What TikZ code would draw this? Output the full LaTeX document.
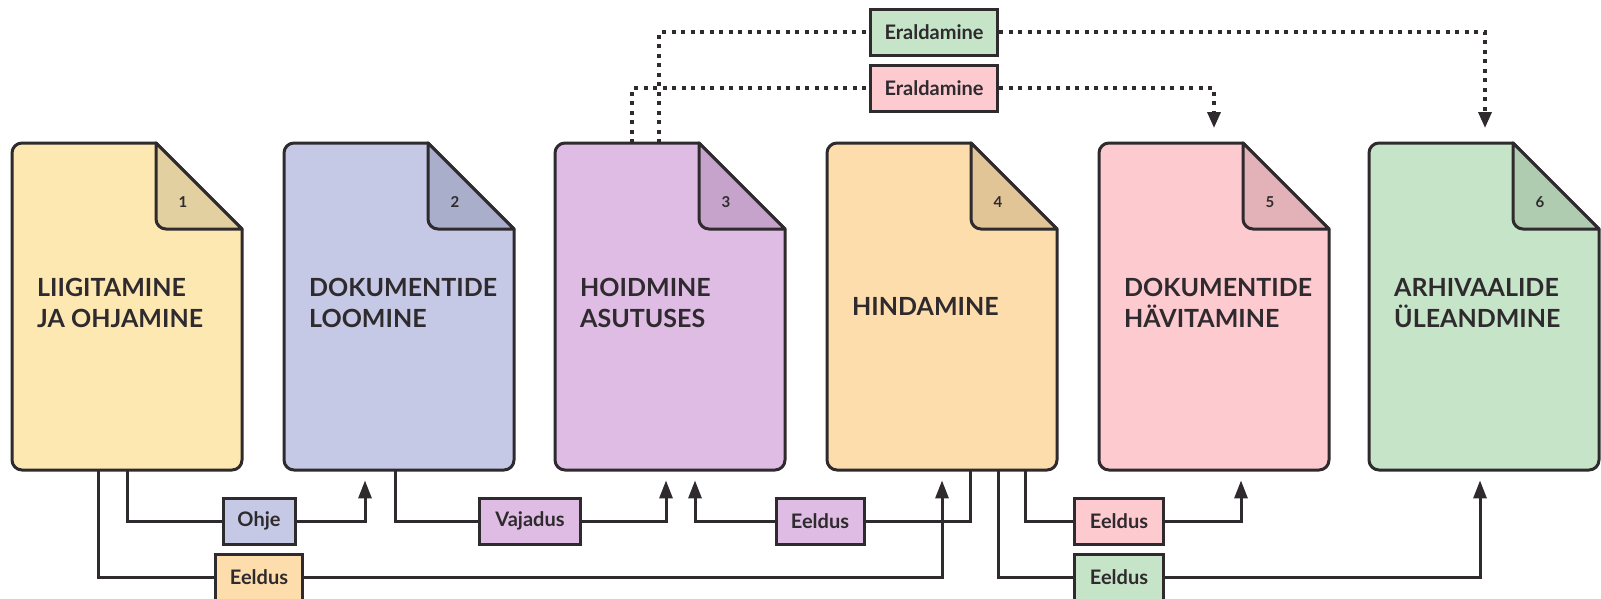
\documentclass[tikz,border=0pt]{standalone}
\usepackage{fontspec}
\setmainfont{Lato}
\usetikzlibrary{arrows.meta,calc}
\definecolor{ink}{HTML}{2E2A2E}
\definecolor{cA}{HTML}{FDE8B1}\definecolor{cA fold}{HTML}{E2D0A0}
\definecolor{cB}{HTML}{C5C9E6}\definecolor{cB fold}{HTML}{A9AECB}
\definecolor{cC}{HTML}{DFBCE4}\definecolor{cC fold}{HTML}{C6A3CB}
\definecolor{cD}{HTML}{FDDDAC}\definecolor{cD fold}{HTML}{E2C597}
\definecolor{cE}{HTML}{FDCAD0}\definecolor{cE fold}{HTML}{E2B2B8}
\definecolor{cF}{HTML}{C6E4C8}\definecolor{cF fold}{HTML}{AFCBB0}
\begin{document}
\begin{tikzpicture}[x=1pt,y=-1pt,
  docline/.style={draw=ink,line width=3pt,line join=round},
  title/.style={anchor=west,align=left,font=\fontsize{25}{31}\selectfont\bfseries,text=ink,inner sep=0pt},
  num/.style={font=\fontsize{15}{15}\selectfont\bfseries,text=ink},
  lbl/.style={draw=ink,line width=3pt,minimum height=46pt,inner sep=0pt,font=\fontsize{20}{22}\selectfont\bfseries,text=ink},
  conn/.style={draw=ink,line width=3pt,-{Triangle[length=18pt,width=13pt]}},
  link/.style={draw=ink,line width=3pt},
  dotline/.style={draw=ink,line width=3.5pt,dash pattern=on 4pt off 5.5pt},
  dotconn/.style={dotline,-{Triangle[length=16pt,width=13pt]}},
]
\useasboundingbox (0,0) rectangle (1601,598);
\foreach \i/\L/\c in {1/12/cA,2/284/cB,3/555/cC,4/827/cD,5/1099/cE,6/1369/cF} {
  \node[minimum width=230pt,minimum height=327pt,inner sep=0pt,anchor=north west] (d\i) at (\L,143) {};
  \path[docline,fill=\c] (\L+144,143) -- (\L+230,229) -- (\L+230,460) arc[start angle=0,end angle=90,radius=10]
     -- (\L+10,470) arc[start angle=90,end angle=180,radius=10]
     -- (\L,153) arc[start angle=180,end angle=270,radius=10] -- cycle;
  \path[docline,fill=\c\space fold] (\L+144,143) -- (\L+144,219) arc[start angle=180,end angle=90,radius=10] -- (\L+230,229) -- cycle;
  \node[num] (n\i) at (\L+171,202) {\i};
}
\node[title] (t1) at (37,303) {LIIGITAMINE\\JA OHJAMINE};
\node[title] (t2) at (309,303) {DOKUMENTIDE\\LOOMINE};
\node[title] (t3) at (580,303) {HOIDMINE\\ASUTUSES};
\node[title] (t4) at (852,306) {HINDAMINE};
\node[title] (t5) at (1124,303) {DOKUMENTIDE\\HÄVITAMINE};
\node[title] (t6) at (1394,303) {ARHIVAALIDE\\ÜLEANDMINE};
% labels
\node[lbl,fill=cB,minimum width=72pt] (ohje) at (259,521) {Ohje};
\node[lbl,fill=cC,minimum width=101pt] (vaj) at (530,521) {Vajadus};
\node[lbl,fill=cC,minimum width=88pt] (e2) at (820,521) {Eeldus};
\node[lbl,fill=cE,minimum width=89pt] (e3) at (1119,521) {Eeldus};
\node[lbl,fill=cD,minimum width=87pt] (e1) at (259,577) {Eeldus};
\node[lbl,fill=cF,minimum width=89pt] (e4) at (1119,577) {Eeldus};
\node[lbl,fill=cF,minimum width=127pt] (er2) at (934,32) {Eraldamine};
\node[lbl,fill=cE,minimum width=127pt] (er1) at (934,88) {Eraldamine};
% bottom connectors
\draw[link] ($(d1.south west)+(115,0)$) |- (ohje.west);
\draw[conn] (ohje.east) -| ($(d2.south west)+(81,10)$);
\draw[link] ($(d1.south west)+(86,0)$) |- (e1.west);
\draw[conn] (e1.east) -| ($(d4.south west)+(115,10)$);
\draw[link] ($(d2.south west)+(111,0)$) |- (vaj.west);
\draw[conn] (vaj.east) -| ($(d3.south west)+(111,10)$);
\draw[link] ($(d4.south west)+(143,0)$) |- (e2.east);
\draw[conn] (e2.west) -| ($(d3.south west)+(140,10)$);
\draw[link] ($(d4.south west)+(198,0)$) |- (e3.west);
\draw[conn] (e3.east) -| ($(d5.south west)+(142,10)$);
\draw[link] ($(d4.south west)+(171,0)$) |- (e4.west);
\draw[conn] (e4.east) -| ($(d6.south west)+(111,10)$);
% top dotted connectors
\draw[dotline] ($(d3.north west)+(104,0)$) |- (er2.west);
\draw[dotconn] (er2.east) -| ($(d6.north west)+(116,-15)$);
\draw[dotline] ($(d3.north west)+(77,0)$) |- (er1.west);
\draw[dotconn] (er1.east) -| ($(d5.north west)+(115,-15)$);
\end{tikzpicture}
\end{document}
